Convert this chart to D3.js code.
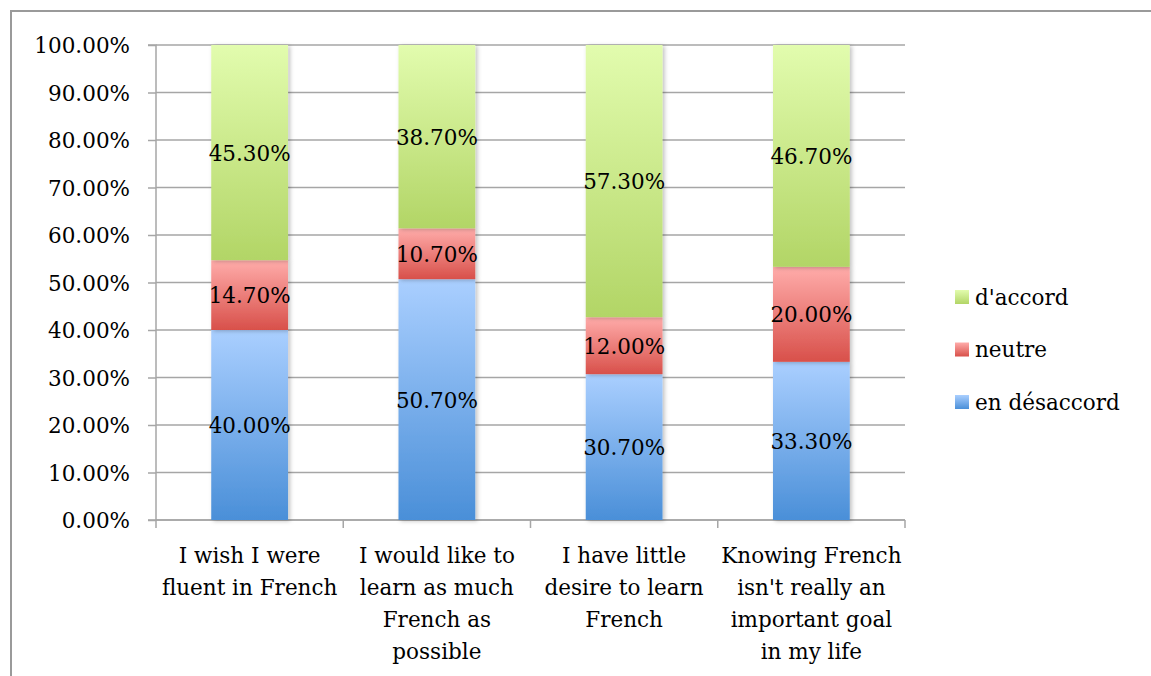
<!DOCTYPE html>
<html><head><meta charset="utf-8">
<script src="https://cdn.jsdelivr.net/npm/d3@7"></script>
<style>body{margin:0;background:#fff}svg{display:block}</style>
</head><body>
<svg id="c" width="1151" height="676"></svg>
<script>
const categories = [
  ["I wish I were","fluent in French"],
  ["I would like to","learn as much","French as","possible"],
  ["I have little","desire to learn","French"],
  ["Knowing French","isn't really an","important goal","in my life"]
];
const seriesNames = ["en désaccord","neutre","d'accord"];
const enDesaccord = [40.0, 50.7, 30.7, 33.3];
const neutre = [14.7, 10.7, 12.0, 20.0];
const dAccord = [45.3, 38.7, 57.3, 46.7];
const yTicks = [0,10,20,30,40,50,60,70,80,90,100];

const FONT = "'DejaVu Serif', serif";
const FS = 21.5;
const svg = d3.select("#c");
const defs = svg.append("defs");
const grads = [
  {id:"gB", top:"#aacfff", bot:"#4a8fd8"},
  {id:"gR", top:"#ffacaa", bot:"#d8504a"},
  {id:"gG", top:"#e2fcae", bot:"#b2d566"}
];
grads.forEach(g=>{
  const lg = defs.append("linearGradient").attr("id",g.id).attr("x1",0).attr("y1",0).attr("x2",0).attr("y2",1);
  lg.append("stop").attr("offset","0%").attr("stop-color",g.top);
  lg.append("stop").attr("offset","100%").attr("stop-color",g.bot);
});
const flt = defs.append("filter").attr("id","sh").attr("x","-20%").attr("y","-5%").attr("width","140%").attr("height","115%");
flt.append("feDropShadow").attr("dx",2).attr("dy",1).attr("stdDeviation",2).attr("flood-color","#000").attr("flood-opacity",0.25);

// chart border
svg.append("path").attr("d","M11,676 V11 H1151").attr("fill","none").attr("stroke","#9a9a9a").attr("stroke-width",2);

const x0 = 156, x1 = 905, yTop = 45, yBot = 520;
const x = d3.scaleBand().domain(d3.range(categories.length)).range([x0,x1]).paddingInner(0.59).paddingOuter(0.295);
const xb = d3.scaleBand().domain(d3.range(categories.length)).range([x0,x1]);
const y = d3.scaleLinear().domain([0,100]).range([yBot,yTop]).clamp(true);

// gridlines
svg.append("g").selectAll("line").data(yTicks).join("line")
  .attr("x1",x0).attr("x2",x1).attr("y1",d=>y(d)).attr("y2",d=>y(d))
  .attr("stroke","#a6a6a6").attr("stroke-width",1.5);

// y axis
const yAxis = d3.axisLeft(y).tickValues(yTicks).tickSize(8).tickPadding(18).tickFormat(d=>d.toFixed(2)+"%");
const gy = svg.append("g").attr("transform",`translate(${x0},0)`).call(yAxis);
gy.select(".domain").attr("stroke","#a6a6a6").attr("stroke-width",1.5).attr("d",`M-8,${yTop}H0V${yBot}H-8`);
gy.selectAll(".tick line").attr("stroke","#a6a6a6").attr("stroke-width",1.5);
gy.selectAll(".tick text").attr("font-family",FONT).attr("font-size",FS).attr("fill","#000").attr("dy","0.36em");

// x axis ticks at band boundaries
const bounds = d3.range(categories.length+1).map(i=> i<categories.length ? xb(i) : x1);
svg.append("g").selectAll("line").data(bounds).join("line")
  .attr("x1",d=>d).attr("x2",d=>d).attr("y1",yBot).attr("y2",yBot+8)
  .attr("stroke","#a6a6a6").attr("stroke-width",1.5);
svg.append("line").attr("x1",x0).attr("x2",x1).attr("y1",yBot).attr("y2",yBot).attr("stroke","#a6a6a6").attr("stroke-width",1.5);

// stacked data
const series = [enDesaccord, neutre, dAccord];
const rows = categories.map((c,i)=>({i, v:series.map(s=>s[i])}));
const segs = [];
rows.forEach(r=>{
  let acc=0;
  r.v.forEach((v,k)=>{ segs.push({i:r.i,k,v,y0:acc,y1:acc+v}); acc+=v; });
});

const gb = svg.append("g");
gb.selectAll("rect").data(segs).join("rect")
  .attr("x",d=>x(d.i)).attr("width",x.bandwidth())
  .attr("y",d=>y(d.y1)).attr("height",d=>y(d.y0)-y(d.y1))
  .attr("fill",d=>`url(#${grads[d.k].id})`)
  .attr("filter","url(#sh)");

svg.append("g").selectAll("text").data(segs).join("text")
  .attr("x",d=>x(d.i)+x.bandwidth()/2)
  .attr("y",d=>(y(d.y0)+y(Math.min(d.y1,100)))/2)
  .attr("dy","0.38em").attr("text-anchor","middle")
  .attr("font-family",FONT).attr("font-size",FS).attr("fill","#000")
  .text(d=>d.v.toFixed(2)+"%");

// x labels
const gx = svg.append("g");
categories.forEach((lines,i)=>{
  const t = gx.append("text").attr("text-anchor","middle").attr("font-family",FONT).attr("font-size",FS).attr("fill","#000");
  lines.forEach((ln,j)=>{
    t.append("tspan").attr("x",xb(i)+xb.bandwidth()/2).attr("y",563+j*32).text(ln);
  });
});

// legend
const legendOrder = [2,1,0];
const lg = svg.append("g");
legendOrder.forEach((k,j)=>{
  const cy = 297 + j*52.5;
  lg.append("rect").attr("x",955).attr("y",cy-7).attr("width",14).attr("height",14).attr("fill",`url(#${grads[k].id})`);
  lg.append("text").attr("x",975).attr("y",cy).attr("dy","0.36em").attr("font-family",FONT).attr("font-size",FS).attr("fill","#000").text(seriesNames[k]);
});
</script>
</body></html>
